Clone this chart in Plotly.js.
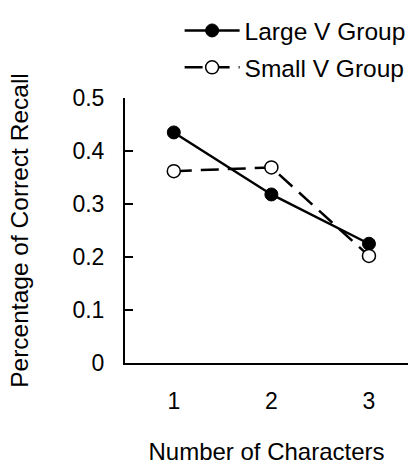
<!DOCTYPE html>
<html>
<head>
<meta charset="utf-8">
<script src="https://cdn.plot.ly/plotly-3.0.1.min.js"></script>
<style>html,body{margin:0;padding:0;background:#fff;width:408px;height:465px;overflow:hidden}#chart{width:408px;height:465px;overflow:hidden}</style>
</head>
<body>
<div id="chart"></div>
<script>
const categories = [1, 2, 3];
const largeV = [0.435, 0.318, 0.225];
const smallV = [0.362, 0.369, 0.202];
const yTickVals = [0, 0.1, 0.2, 0.3, 0.4, 0.5];
const yTickText = ['0', '0.1', '0.2', '0.3', '0.4', '0.5'];

const font = 'Liberation Sans, Arial, sans-serif';

const traces = [
  {
    x: categories, y: largeV, name: 'Large V Group', type: 'scatter', mode: 'lines+markers',
    legendgroup: 'a',
    line: {color: '#000', width: 2.5},
    marker: {symbol: 'circle', size: 13, color: '#000', line: {color: '#000', width: 1}}
  },
  {
    x: categories, y: smallV, name: 'Small V Group', type: 'scatter', mode: 'lines+markers',
    legendgroup: 'b',
    line: {color: '#000', width: 2.5, dash: '18px,9px'},
    marker: {symbol: 'circle', size: 13, color: '#fff', line: {color: '#000', width: 1.5}}
  }
];

const layout = {
  width: 408, height: 465,
  margin: {l: 125, r: 0, t: 98, b: 102, pad: 0, autoexpand: false},
  paper_bgcolor: '#fff', plot_bgcolor: '#fff',
  font: {family: font, size: 23, color: '#000'},
  showlegend: true,
  legend: {
    x: 0.193, xanchor: 'left', y: 1.03, yanchor: 'bottom', yref: 'paper',
    font: {family: font, size: 24.5, color: '#000'},
    itemwidth: 55, traceorder: 'grouped', tracegroupgap: 2,
    bgcolor: 'rgba(0,0,0,0)'
  },
  xaxis: {
    range: [0.5, 3.4], tickvals: categories, ticktext: categories.map(String),
    showgrid: false, zeroline: false, showline: true, linecolor: '#000', linewidth: 2,
    ticks: '', ticklabelstandoff: 16,
    tickfont: {family: font, size: 23},
    title: {text: 'Number of Characters', font: {family: font, size: 24}, standoff: 31},
    automargin: false
  },
  yaxis: {
    range: [0, 0.5], tickvals: yTickVals, ticktext: yTickText,
    showgrid: false, zeroline: false, showline: true, linecolor: '#000', linewidth: 2,
    ticks: 'inside', ticklen: 8, tickwidth: 2, tickcolor: '#000', ticklabelstandoff: 14,
    tickfont: {family: font, size: 23},
    title: {text: 'Percentage of Correct Recall', font: {family: font, size: 24.5}, standoff: 37},
    automargin: false
  }
};

Plotly.newPlot('chart', traces, layout, {displayModeBar: false, staticPlot: true});
</script>
</body>
</html>
